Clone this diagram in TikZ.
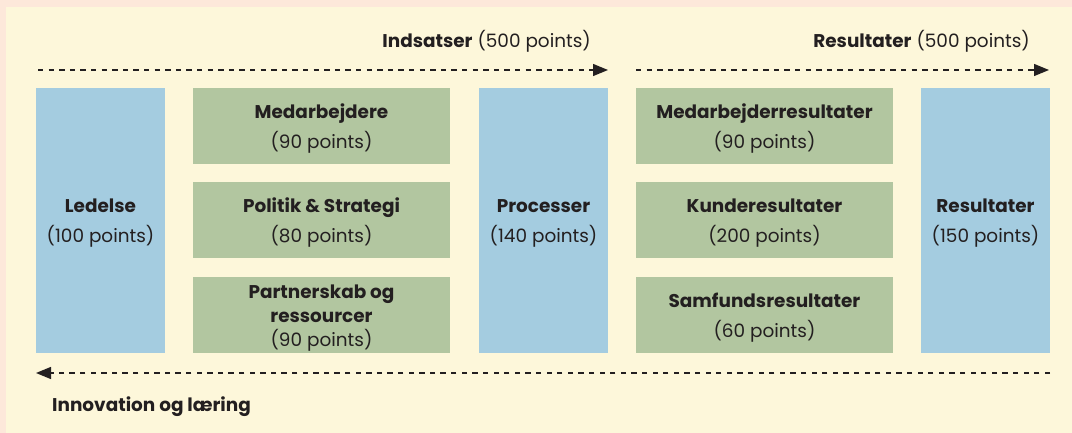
\documentclass[tikz,border=0pt]{standalone}
\usepackage{fontspec}
\setmainfont{Poppins}
\usetikzlibrary{arrows.meta,positioning}
\definecolor{bgpink}{HTML}{FDE8DA}
\definecolor{bgyellow}{HTML}{FDF7DA}
\definecolor{boxblue}{HTML}{A4CCE0}
\definecolor{boxgreen}{HTML}{B2C6A0}
\definecolor{textdark}{HTML}{231F20}
% strut that pushes box text a little lower
\newcommand{\topgap}{\rule{0pt}{19bp}}

\begin{document}
\begin{tikzpicture}[x=1bp, y=-1bp,
    box/.style={minimum height=#1, inner sep=1bp, align=center, text=textdark},
    bluebox/.style={box=265bp, fill=boxblue, minimum width=129bp},
    greenbox/.style={box=76bp, fill=boxgreen, minimum width=257bp},
    flow/.style={draw=textdark, line width=1.3bp, dash pattern=on 5.3bp off 5.3bp,
                 -{Triangle[length=15bp,width=12bp]}},
    font=\fontsize{18.5}{24}\selectfont]
  % page with pink edge
  \fill[bgpink] (0,0) rectangle (1072,433);
  \fill[bgyellow] (6,7) rectangle (1072,433);
  \useasboundingbox (0,0) rectangle (1072,433);

  % enablers
  \node[bluebox] (ledelse) at (100.5,220.5) {\topgap\textbf{Ledelse}\\[6bp](100 points)};
  \node[greenbox] (medarb) at (321.5,126) {\topgap\textbf{Medarbejdere}\\[6bp](90 points)};
  \node[greenbox] (politik) at (321.5,220.5) {\topgap\textbf{Politik \& Strategi}\\[6bp](80 points)};
  \node[greenbox] (partner) at (321.5,315.5) {\topgap\textbf{Partnerskab og}\\\textbf{ressourcer}\\(90 points)};
  \node[bluebox] (proc) at (543.5,220.5) {\topgap\textbf{Processer}\\[6bp](140 points)};

  % results
  \node[greenbox] (medres) at (764.5,126) {\topgap\textbf{Medarbejderresultater}\\[6bp](90 points)};
  \node[greenbox] (kunde) at (764.5,220.5) {\topgap\textbf{Kunderesultater}\\[6bp](200 points)};
  \node[greenbox] (samf) at (764.5,315.5) {\topgap\textbf{Samfundsresultater}\\[6bp](60 points)};
  \node[bluebox] (resultat) at (985.5,220.5) {\topgap\textbf{Resultater}\\[6bp](150 points)};

  % headings and flow arrows
  \node[anchor=base east, inner sep=0pt, text=textdark] (indsatser) at (591,48) {\textbf{Indsatser} (500 points)};
  \node[anchor=base east, inner sep=0pt, text=textdark] (resultater) at (1030,48) {\textbf{Resultater} (500 points)};
  \node[anchor=base west, inner sep=0pt, text=textdark] (innovation) at (52,412) {\textbf{Innovation og læring}};

  \coordinate (ind-a) at (38,70);
  \coordinate (ind-b) at (608,70);
  \coordinate (res-a) at (636,70);
  \coordinate (res-b) at (1049,70);
  \coordinate (inn-a) at (1050,373);
  \coordinate (inn-b) at (36,373);
  \draw[flow] (ind-a) -- (ind-b);
  \draw[flow] (res-a) -- (res-b);
  \draw[flow] (inn-a) -- (inn-b);
\end{tikzpicture}
\end{document}
